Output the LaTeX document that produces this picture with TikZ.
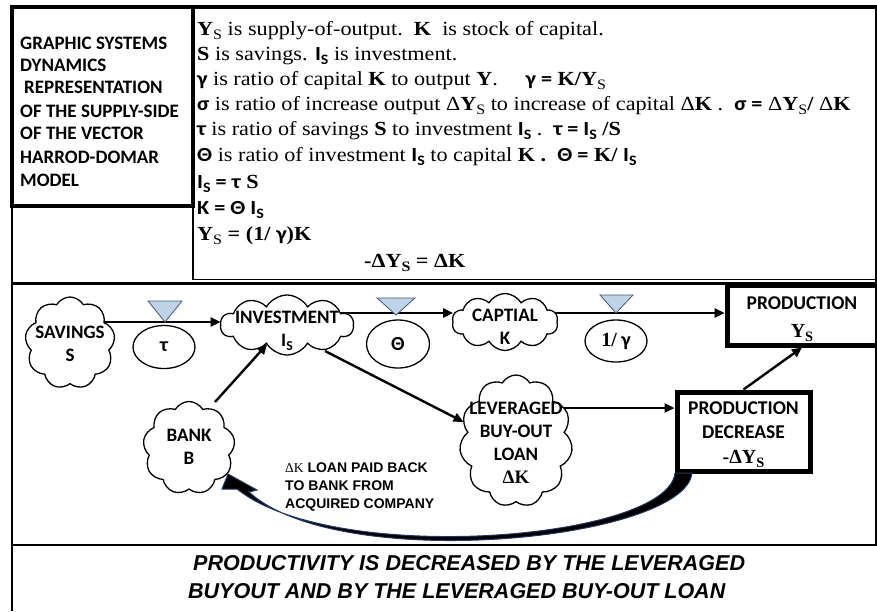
\documentclass[tikz,border=0pt]{standalone}
\usepackage{fontspec}
\usepackage{graphicx}
\setmainfont{Liberation Serif}
\newfontfamily\cbfont{Carlito}
\newfontfamily\arialfont{Liberation Sans}
\usetikzlibrary{shapes.symbols,shapes.geometric,arrows.meta}
\pgfdeclarelayer{bg}
\pgfdeclarelayer{paper}
\pgfsetlayers{paper,bg,main}
\newcommand\cb{\cbfont\bfseries}
\newcommand\lo[1]{\raisebox{-0.2em}{\scalebox{0.72}{#1}}}
\newcommand\wide[1]{\scalebox{1.11}[1]{#1}}
\definecolor{valvefill}{RGB}{190,210,232}
\definecolor{valveline}{RGB}{70,90,120}
\definecolor{arrowblue}{RGB}{32,56,100}
\begin{document}
\begin{tikzpicture}[x=1pt,y=-1pt,
  frame/.style={line width=#1,black},
  cloudsty/.style={cloud, cloud puffs=#1, cloud puff arc=120, draw, line width=1.3pt, fill=white,
     cloud ignores aspect, inner sep=0pt, outer sep=0pt},
  lbl/.style={font=\cb\fontsize{19}{23}\selectfont, align=center, inner sep=0pt},
  ellip/.style={ellipse, draw, line width=1.3pt, fill=white, inner sep=0pt},
  ellabel/.style={font=\cb\fontsize{20}{22}\selectfont},
  boxsty/.style={draw, line width=5pt, fill=white, inner sep=0pt},
  boxlbl/.style={anchor=base, inner sep=0pt, font=\cb\fontsize{19.5}{24}\selectfont},
  boxsym/.style={anchor=base, inner sep=0pt, font=\rmfamily\bfseries\fontsize{20}{22}\selectfont},
  flow/.style={-{Triangle[length=10pt,width=9pt]}, line width=2.4pt},
  valve/.style={fill=valvefill, draw=valveline, line width=0.8pt},
  txt/.style={anchor=base west, inner sep=0pt, font=\fontsize{20}{24}\selectfont},
  ttl/.style={anchor=base west, inner sep=0pt, font=\cb\fontsize{19}{22}\selectfont},
  note/.style={anchor=base west, inner sep=0pt, font=\arialfont\bfseries\fontsize{14}{16}\selectfont},
  bottomtxt/.style={anchor=base west, inner sep=0pt, font=\arialfont\bfseries\itshape\fontsize{21.5}{24}\selectfont}
]
\useasboundingbox (0,0) rectangle (877,611);
\begin{pgfonlayer}{paper}
\fill[white] (0,0) rectangle (877,611);
\end{pgfonlayer}

% ---------- frames ----------
\draw[frame=4pt] (10,7) -- (877,7);
\draw[frame=4pt] (12,7) rectangle (193,206);
\draw[frame=1.3pt] (193,7) -- (193,279.5) -- (877,279.5);
\draw[frame=1.2pt] (876,7) -- (876,545);
\draw[frame=2pt] (12,206) -- (12,611);
\draw[frame=2.5pt] (12,283.5) -- (877,283.5);
\draw[frame=2.5pt] (12,545) -- (877,545);

% ---------- title ----------
\node[ttl] (t1) at (20,49) {GRAPHIC SYSTEMS};
\node[ttl] (t2) at (20,71) {DYNAMICS};
\node[ttl] (t3) at (24,93) {REPRESENTATION};
\node[ttl] (t4) at (20,117) {OF THE SUPPLY-SIDE};
\node[ttl] (t5) at (20,139) {OF THE VECTOR};
\node[ttl] (t6) at (20,163) {HARROD-DOMAR};
\node[ttl] (t7) at (20,186) {MODEL};

% ---------- definitions ----------
\node[txt] (d1) at (197,35) {\wide{\textbf{Y}\lo{S} is supply-of-output.\ \ \textbf{K}\ \ is stock of capital.}};
\node[txt] (d2) at (197,60) {\wide{\textbf{S} is savings. {\cb I\lo{S}} is investment.}};
\node[txt] (d3) at (197,85) {\wide{{\cb γ} is ratio of capital \textbf{K} to output \textbf{Y}.\quad\ {\cb γ =} \textbf{K/Y}\lo{S}}};
\node[txt] (d4) at (197,110) {\wide{{\cb σ} is ratio of increase output Δ\textbf{Y}\lo{S} to increase of capital Δ\textbf{K} .\ \ {\cb σ =} Δ\textbf{Y}\lo{S}\textbf{/} Δ\textbf{K}}};
\node[txt] (d5) at (197,135) {\wide{{\cb τ} is ratio of savings \textbf{S} to investment {\cb I\lo{S}} .\ \ {\cb τ = I\lo{S}} \textbf{/S}}};
\node[txt] (d6) at (197,161) {\wide{{\cb Θ} is ratio of investment {\cb I\lo{S}} to capital \textbf{K .}\ \ {\cb Θ =} \textbf{K/} {\cb I\lo{S}}}};
\node[txt] (d7) at (197,188) {\wide{{\cb I\lo{S} = τ} \textbf{S}}};
\node[txt] (d8) at (197,214) {\wide{{\cb K = Θ I\lo{S}}}};
\node[txt] (d9) at (197,240) {\wide{\textbf{Y}\lo{S}\textbf{ = (1/} {\cb γ}\textbf{)K}}};
\node[txt] (d10) at (364,267) {\wide{\textbf{-ΔY}\lo{\textbf{S}}\textbf{ = ΔK}}};

% ---------- nodes ----------
\node[cloudsty=9, minimum width=90pt, minimum height=92pt] (sav) at (70,343) {};
\node[lbl] (savt) at (70,344) {SAVINGS\\S};
\node[cloudsty=10, minimum width=133pt, minimum height=60pt] (inv) at (287,325) {};
\node[lbl] (invt) at (287,331) {INVESTMENT\\I\lo{S}};
\node[cloudsty=10, minimum width=106pt, minimum height=57pt] (cap) at (505,322) {};
\node[lbl] (capt) at (505,327) {CAPTIAL\\K};
\node[cloudsty=9, minimum width=92pt, minimum height=93pt] (bank) at (189,448) {};
\node[lbl] (bankt) at (189,447) {BANK\\B};
\node[cloudsty=11, minimum width=113pt, minimum height=132pt] (lev) at (516,441) {};
\node[lbl] (levt) at (516,443) {LEVERAGED\\BUY-OUT\\LOAN\\{\rmfamily\bfseries ΔK}};

\node[ellip, minimum width=62pt, minimum height=43pt] (tau) at (164,347) {};
\node[ellabel] (taut) at (164,347) {τ};
\node[ellip, minimum width=63pt, minimum height=48pt] (theta) at (398,344) {};
\node[ellabel] (thetat) at (398,344) {Θ};
\node[ellip, minimum width=62pt, minimum height=42pt] (gam) at (616,341) {};
\node[ellabel] (gamt) at (616,341) {{\rmfamily\bfseries 1/} γ};

\node[boxsty, minimum width=150pt, minimum height=60pt] (prod) at (802,315) {};
\node[boxlbl] (prodt1) at (802,309.5) {PRODUCTION};
\node[boxsym] (prodt2) at (802,337) {Y\lo{S}};
\node[boxsty, minimum width=133pt, minimum height=79pt] (pd) at (743.5,431.5) {};
\node[boxlbl] (pdt1) at (743.5,414.5) {PRODUCTION};
\node[boxlbl] (pdt2) at (743.5,438.5) {DECREASE};
\node[boxsym] (pdt3) at (743.5,463.5) {-ΔY\lo{S}};

% valves
\filldraw[valve] (148,301) -- (182,301) -- (165,322) -- cycle;
\filldraw[valve] (377,298) -- (415,298) -- (396,315) -- cycle;
\filldraw[valve] (600,295) -- (633,295) -- (616,313) -- cycle;

% note
\node[note] (n1) at (285,472) {{\rmfamily\mdseries\fontsize{13.5}{16}\selectfont ΔK}\ LOAN PAID BACK};
\node[note] (n2) at (285,490) {TO BANK FROM};
\node[note] (n3) at (285,508) {ACQUIRED COMPANY};

% ---------- connectors ----------
\begin{pgfonlayer}{bg}
\draw[flow] (sav.center |- 0,322) -- (inv.west |- 0,322);
\draw[flow] (inv.center |- 0,313) -- (cap.west |- 0,313);
\draw[flow] (cap.center |- 0,313) -- (prod.west |- 0,313);
\draw[flow] (lev.center |- 0,408) -- (pd.west |- 0,408);
\draw[flow] (inv.center) ++(38,26) -- (lev.160);
\draw[flow] (bank.center) ++(26,-46) -- (inv.-136);
\draw[flow] (pd.north) -- (prod.south);
\end{pgfonlayer}

% curved return arrow from production decrease to bank
\filldraw[fill=black, draw=arrowblue, line width=1pt]
  (692,473) .. controls (685,540) and (340,575) .. (249,492)
  -- (257,490) -- (228,474) -- (222,489) -- (237,489)
  .. controls (335,567) and (668,540) .. (675,473) -- cycle;

% ---------- bottom text ----------
\node[bottomtxt] (b1) at (193,570) {PRODUCTIVITY IS DECREASED BY THE LEVERAGED};
\node[bottomtxt] (b2) at (188,598) {BUYOUT AND BY THE LEVERAGED BUY-OUT LOAN};
\end{tikzpicture}
\end{document}
